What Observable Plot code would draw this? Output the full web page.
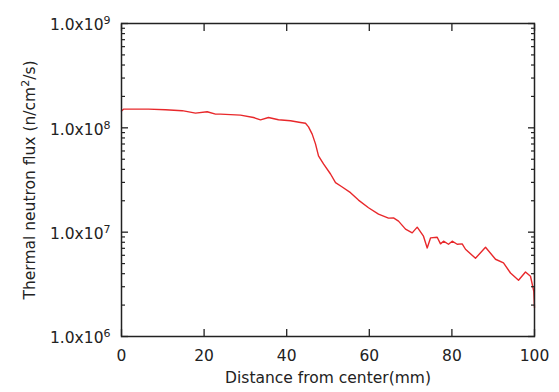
<!DOCTYPE html>
<html><head><meta charset="utf-8">
<script src="https://cdn.jsdelivr.net/npm/d3@7"></script>
<script src="https://cdn.jsdelivr.net/npm/@observablehq/plot@0.6"></script>
<style>body{margin:0;background:#fff}</style>
</head><body><div id="chart"></div>
<script>
// Distance from center (mm) and thermal neutron flux (n/cm^2/s)
const distance = [0, 0.48, 3.39, 6.54, 10.65, 14.70, 17.92, 20.75, 22.76, 23.97, 28.81, 31.96, 33.66, 35.59, 38.01, 40.92, 43.34, 44.55, 45.28, 46.17, 46.97, 47.70, 48.91, 50.61, 51.82, 53.44, 55.45, 57.38, 59.81, 62.23, 64.65, 65.86, 67.07, 68.77, 70.39, 71.60, 73.12, 74.02, 74.82, 76.44, 77.24, 77.97, 79.18, 80.07, 81.28, 82.49, 83.29, 85.71, 88.14, 90.56, 92.49, 94.19, 96.13, 97.82, 99.03, 99.83, 100];
const flux = [1.45e8, 1.51e8, 1.51e8, 1.51e8, 1.49e8, 1.46e8, 1.385e8, 1.425e8, 1.354e8, 1.354e8, 1.325e8, 1.256e8, 1.194e8, 1.256e8, 1.194e8, 1.168e8, 1.125e8, 1.105e8, 1.022e8, 8.70e7, 7.02e7, 5.38e7, 4.51e7, 3.61e7, 2.98e7, 2.71e7, 2.39e7, 2.03e7, 1.713e7, 1.49e7, 1.363e7, 1.372e7, 1.276e7, 1.069e7, 9.85e6, 1.117e7, 9.15e6, 7.06e6, 8.81e6, 8.95e6, 7.72e6, 8.19e6, 7.66e6, 8.19e6, 7.66e6, 7.72e6, 6.86e6, 5.62e6, 7.17e6, 5.50e6, 5.07e6, 4.06e6, 3.46e6, 4.15e6, 3.78e6, 2.71e6, 1.90e6];

const xTicks = [0, 20, 40, 60, 80, 100];
const yMajor = [1e6, 1e7, 1e8, 1e9];
const yMinorFactors = [2, 3, 4, 5, 6, 7, 8, 9];
const yTickLabels = ["1.0x10^6", "1.0x10^7", "1.0x10^8", "1.0x10^9"];
const xTitle = "Distance from center(mm)";
const yTitle = "Thermal neutron flux (n/cm^2/s)";

const data = distance.map((x, i) => ({x, y: flux[i]}));
const yMinor = yMajor.slice(0, -1).flatMap(m => yMinorFactors.map(f => f * m));
const labelOf = new Map(yMajor.map((v, i) => [v, yTickLabels[i]]));

const ink = "#222";
const chart = Plot.plot({
  width: 559, height: 392,
  marginLeft: 121, marginRight: 25, marginTop: 23, marginBottom: 56,
  style: {fontFamily: "'DejaVu Sans', sans-serif", fontSize: "15.5px", color: ink, background: "#fff"},
  x: {domain: [0, 100]},
  y: {type: "log", domain: [1e6, 1e9]},
  marks: [
    Plot.line(data, {x: "x", y: "y", stroke: "#e8282b", strokeWidth: 1.4}),
    Plot.frame({stroke: ink, strokeWidth: 1.5}),
    Plot.axisX({ticks: xTicks, anchor: "bottom", tickSize: -7, text: null, label: null, strokeWidth: 1.3}),
    Plot.axisX({ticks: xTicks, anchor: "top", tickSize: -7, text: null, label: null, strokeWidth: 1.3}),
    Plot.axisX({ticks: xTicks, anchor: "bottom", tickSize: 0, tickPadding: 13, label: null, tickFormat: d => String(d)}),
    Plot.axisY({ticks: yMajor, anchor: "left", tickSize: -7, text: null, label: null, strokeWidth: 1.3}),
    Plot.axisY({ticks: yMinor, anchor: "left", tickSize: -4, text: null, label: null, strokeWidth: 1.2}),
    Plot.axisY({ticks: yMajor, anchor: "right", tickSize: -7, text: null, label: null, strokeWidth: 1.3}),
    Plot.axisY({ticks: yMinor, anchor: "right", tickSize: -4, text: null, label: null, strokeWidth: 1.2}),
    Plot.axisY({ticks: yMajor, anchor: "left", tickSize: 0, tickPadding: 11, label: null, dy: 2, tickFormat: d => labelOf.get(d)}),
    Plot.text([xTitle], {frameAnchor: "bottom", dy: 46, text: d => d}),
    Plot.text([yTitle], {frameAnchor: "left", textAnchor: "middle", dx: -91, rotate: -90, text: d => d})
  ]
});

// turn "^n" markers into real superscript tspans
d3.select(chart).selectAll("text").each(function () {
  const s = this.textContent;
  const m = s.match(/^(.*?)\^(\d+)(.*)$/);
  if (!m) return;
  const t = d3.select(this);
  t.selectAll("*").remove();
  t.text(null);
  t.append("tspan").text(m[1]);
  t.append("tspan").attr("font-size", "11px").attr("dy", -6).text(m[2]);
  if (m[3]) t.append("tspan").attr("dy", 6).text(m[3]);
});

document.getElementById("chart").append(chart);
</script>
</body></html>
